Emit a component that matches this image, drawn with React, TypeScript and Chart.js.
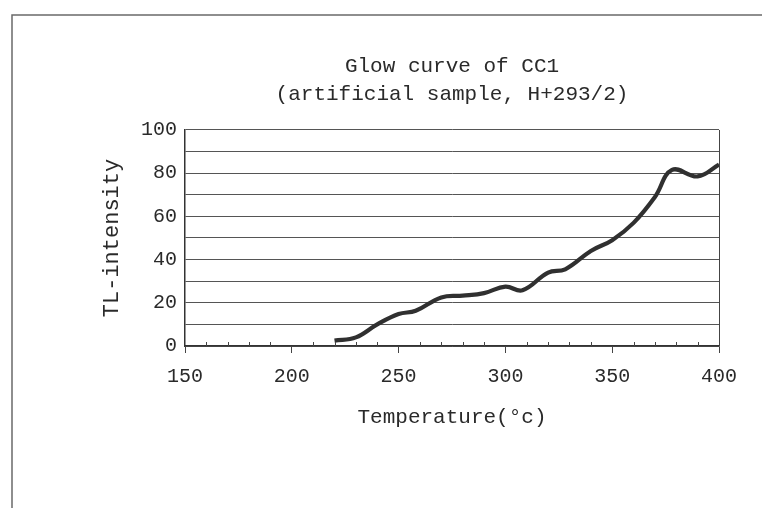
import React, { useEffect, useRef } from "react";
import { Chart, registerables } from "chart.js";

Chart.register(...registerables);

const titleLines = ["Glow curve of CC1", "(artificial sample, H+293/2)"];
const xAxisTitle = "Temperature(°c)";
const yAxisTitle = "TL-intensity";
const temperatures = [220, 230, 240, 250, 258, 270, 280, 290, 300, 308, 320, 328, 340, 350, 360, 370, 378, 390, 400];
const tlIntensity = [2.5, 4, 10, 14.8, 16.3, 22.5, 23.3, 24.5, 27.5, 25.8, 34, 35.5, 44, 49, 57, 69, 81.5, 78.5, 84];
const xMin = 150;
const xMax = 400;
const yMin = 0;
const yMax = 100;

const FONT = "'Liberation Mono', 'DejaVu Sans Mono', monospace";
const INK = "#2a2a2a";

const framePlugin = {
  id: "frame",
  beforeDraw(chart: any) {
    const ctx = chart.ctx;
    ctx.save();
    ctx.fillStyle = "#ffffff";
    ctx.fillRect(0, 0, chart.width, chart.height);
    ctx.strokeStyle = "#6a6a6a";
    ctx.lineWidth = 1.5;
    ctx.beginPath();
    ctx.moveTo(12, chart.height);
    ctx.lineTo(12, 15);
    ctx.lineTo(chart.width, 15);
    ctx.stroke();
    ctx.restore();
  },
  afterDraw(chart: any) {
    const ctx = chart.ctx;
    const area = chart.chartArea;
    const xs = chart.scales.x;
    ctx.save();
    ctx.strokeStyle = "#444";
    ctx.lineWidth = 1;
    ctx.beginPath();
    ctx.moveTo(area.right + 0.5, area.top);
    ctx.lineTo(area.right + 0.5, area.bottom);
    ctx.stroke();
    // minor upward ticks
    ctx.beginPath();
    xs.ticks.forEach((t: any) => {
      if (t.value % 50 !== 0) {
        const px = Math.round(xs.getPixelForValue(t.value)) + 0.5;
        ctx.moveTo(px, area.bottom);
        ctx.lineTo(px, area.bottom - 4);
      }
    });
    ctx.stroke();
    ctx.restore();
  },
};

export default function App() {
  const ref = useRef<HTMLCanvasElement | null>(null);
  useEffect(() => {
    document.body.style.margin = "0";
    if (!ref.current) return;
    const points = temperatures.map((t, i) => ({ x: t, y: tlIntensity[i] }));
    const chart = new Chart(ref.current, {
      type: "line",
      data: {
        datasets: [
          {
            data: points,
            borderColor: "#303030",
            borderWidth: 4.2,
            pointRadius: 0,
            tension: 0.4,
            fill: false,
          },
        ],
      },
      options: {
        animation: false,
        responsive: false,
        layout: { padding: { top: 30, right: 43, bottom: 0, left: 0 } },
        plugins: {
          legend: { display: false },
          tooltip: { enabled: false },
          title: {
            display: true,
            text: titleLines,
            fullSize: false,
            color: INK,
            font: { family: FONT, size: 21, weight: "normal", lineHeight: 1.333 },
            padding: { top: 22, bottom: 22 },
          },
        },
        scales: {
          x: {
            type: "linear",
            min: xMin,
            max: xMax,
            afterFit: (s: any) => {
              s.height = 162;
            },
            ticks: {
              stepSize: 10,
              autoSkip: false,
              maxRotation: 0,
              padding: 12,
              color: INK,
              font: { family: FONT, size: 20 },
              callback: (v: any) => (Number(v) % 50 === 0 ? String(v) : ""),
            },
            grid: {
              drawOnChartArea: false,
              drawTicks: true,
              tickLength: 7,
              color: (c: any) => (c.tick && c.tick.value % 50 === 0 ? "#444" : "rgba(0,0,0,0)"),
            },
            border: { display: true, color: "#333", width: 1.5 },
            title: {
              display: true,
              text: xAxisTitle,
              color: INK,
              font: { family: FONT, size: 21 },
              padding: { top: 0, bottom: 78 },
            },
          },
          y: {
            min: yMin,
            max: yMax,
            afterFit: (s: any) => {
              s.width = 185;
            },
            ticks: {
              stepSize: 10,
              autoSkip: false,
              padding: 8,
              color: INK,
              font: { family: FONT, size: 20 },
              callback: (v: any) => (Number(v) % 20 === 0 ? String(v) : ""),
            },
            grid: {
              drawTicks: false,
              color: "#555",
              lineWidth: 1,
            },
            border: { display: true, color: "#333", width: 1.5 },
            title: {
              display: true,
              text: yAxisTitle,
              color: INK,
              font: { family: FONT, size: 22 },
              padding: { top: 99, bottom: 0 },
            },
          },
        },
      },
      plugins: [framePlugin],
    });
    return () => chart.destroy();
  }, []);
  return (
    <div style={{ width: 762, height: 508 }}>
      <canvas ref={ref} width={762} height={508} style={{ display: "block" }} />
    </div>
  );
}
